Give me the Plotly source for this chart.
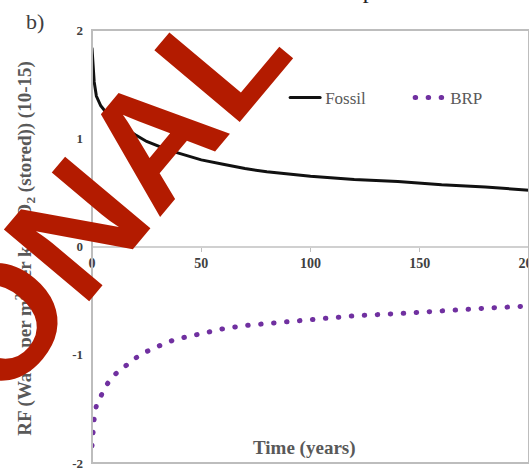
import plotly.graph_objects as go

# Radiative forcing per kg of CO2 stored, over a 200-year horizon
years = [0, 0.5, 1, 2, 3, 4, 6, 8, 10, 13, 16, 20, 25, 30, 35, 40,
         50, 60, 70, 80, 90, 100, 120, 140, 160, 180, 200]
fossil_rf = [1.83, 1.66, 1.52, 1.39, 1.34, 1.30, 1.25, 1.21, 1.17, 1.12, 1.08, 1.03,
             0.97, 0.93, 0.89, 0.86, 0.80, 0.76, 0.72, 0.69, 0.67, 0.65, 0.62,
             0.60, 0.57, 0.55, 0.52]
brp_rf = [-1.84, -1.70, -1.59, -1.47, -1.42, -1.37, -1.30, -1.24, -1.19, -1.14, -1.09,
          -1.03, -0.97, -0.92, -0.88, -0.85, -0.80, -0.76, -0.73, -0.71, -0.69,
          -0.67, -0.64, -0.62, -0.59, -0.57, -0.55]

x_ticks = [0, 50, 100, 150, 200]
y_ticks = [-2, -1, 0, 1, 2]
y_ticklabels = ["-2", "-1", "0", "1", "2"]

SERIF = "Liberation Serif, Times New Roman, serif"

fig = go.Figure()
fig.add_trace(go.Scatter(
    x=years, y=fossil_rf, name="Fossil", mode="lines",
    line=dict(color="#111111", width=3),
))
fig.add_trace(go.Scatter(
    x=years, y=brp_rf, name="BRP", mode="lines",
    line=dict(color="#7030A0", width=5, dash="0.5px,12.5px"),
))

fig.update_layout(
    width=529, height=468,
    margin=dict(l=92, r=0, t=30, b=5, autoexpand=False),
    paper_bgcolor="white", plot_bgcolor="white",
    showlegend=True,
    legend=dict(
        orientation="h", x=0.442, xanchor="left", y=0.843, yanchor="middle",
        font=dict(family=SERIF, size=17, color="#595959"),
        bgcolor="rgba(0,0,0,0)", itemwidth=30, entrywidth=80,
    ),
    xaxis=dict(
        range=[0, 200], tickvals=x_ticks, showgrid=False, zeroline=False,
        showline=True, linecolor="#d0d0d0", linewidth=2,
        anchor="free", position=0.5, automargin=False,
        ticks="outside", ticklen=4, tickcolor="#bfbfbf",
        ticklabeloverflow="allow",
        tickfont=dict(family=SERIF, size=14, color="#404040", weight="bold"),
    ),
    yaxis=dict(
        range=[-2, 2], tickvals=y_ticks, ticktext=y_ticklabels,
        showgrid=False, zeroline=False, showline=False, ticks="",
        automargin=False,
        ticklabeloverflow="allow", ticklabelstandoff=8,
        tickfont=dict(family=SERIF, size=13, color="#404040", weight="bold"),
    ),
    shapes=[dict(
        type="rect", xref="paper", yref="paper", x0=0, x1=1, y0=0, y1=1,
        line=dict(color="#bdbdbd", width=2), layer="above",
    )],
)

annotations = [
    dict(text="be was used to pro", x=0.488, y=1.057, xref="paper", yref="paper",
         xanchor="center", yanchor="bottom", showarrow=False,
         font=dict(family=SERIF, size=24, color="#222222")),
    dict(text="b)", x=-0.13, y=1.0185, xref="paper", yref="paper",
         xanchor="center", yanchor="middle", showarrow=False,
         font=dict(family=SERIF, size=22, color="#404040")),
    dict(text="Time (years)", x=0.487, y=0.035, xref="paper", yref="paper",
         xanchor="center", yanchor="middle", showarrow=False,
         font=dict(family=SERIF, size=19, color="#595959", weight="bold")),
    dict(text="RF (Watts per m<sup>2</sup> per kg CO<sub>2</sub> (stored)) (10-15)",
         x=-0.153, y=0.495, xref="paper", yref="paper", textangle=-90,
         xanchor="center", yanchor="middle", showarrow=False,
         font=dict(family=SERIF, size=19, color="#595959", weight="bold")),
    dict(text="ONAL", x=0.032, y=0.622, xref="paper", yref="paper", textangle=-50,
         xanchor="center", yanchor="middle", showarrow=False,
         font=dict(family="Liberation Sans, Arial, sans-serif", size=162,
                   color="#B31B00", weight="bold")),
]
fig.update_layout(annotations=annotations)

# Round line caps turn the short dashes of the BRP series into dots
round_caps = """
document.querySelectorAll('.scatterlayer .js-line, .legendlines path').forEach(function (p) {
    p.style.strokeLinecap = 'round';
});
"""

fig.write_html("out.html", post_script=round_caps)
